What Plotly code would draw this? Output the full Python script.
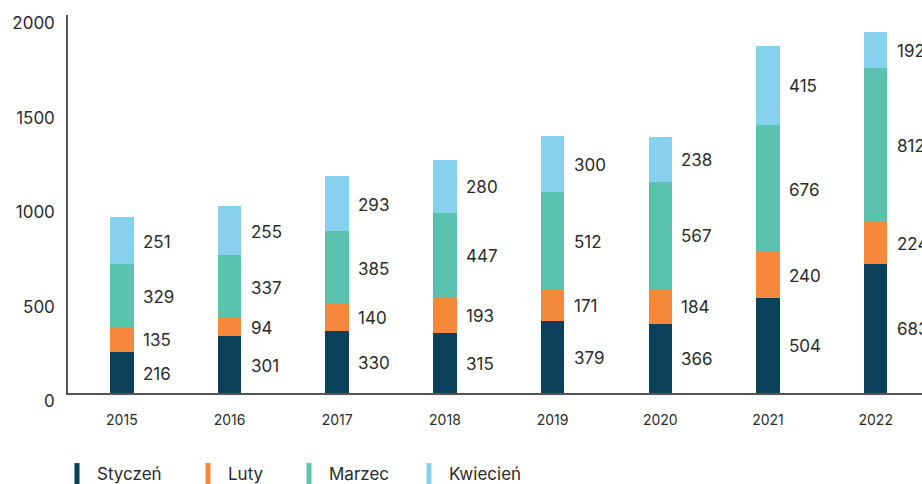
import plotly.graph_objects as go

years = ["2015", "2016", "2017", "2018", "2019", "2020", "2021", "2022"]
styczen = [216, 301, 330, 315, 379, 366, 504, 683]
luty = [135, 94, 140, 193, 171, 184, 240, 224]
marzec = [329, 337, 385, 447, 512, 567, 676, 812]
kwiecien = [251, 255, 293, 280, 300, 238, 415, 192]

series_names = ["Styczeń", "Luty", "Marzec", "Kwiecień"]
series_values = [styczen, luty, marzec, kwiecien]
colors = ["#0B405A", "#F5883B", "#5BC2B0", "#88D1EE"]

y_ticks = [0, 500, 1000, 1500, 2000]

FONT = "Inter"
TXT = "#2b2b2b"

W, H = 922, 484
legend_ids = ["legend", "legend2", "legend3", "legend4"]
legend_x_px = [57, 188, 289, 409]

fig = go.Figure()
base = [0] * len(years)
annotations = []
legends = {}
for k, (name, vals, col) in enumerate(zip(series_names, series_values, colors)):
    fig.add_trace(go.Bar(
        x=years, y=vals, name=name, marker=dict(color=col, line=dict(width=0)),
        width=0.218, showlegend=False, hoverinfo="skip",
    ))
    for i, v in enumerate(vals):
        annotations.append(dict(
            x=i, y=base[i] + v / 2, xref="x", yref="y",
            text=str(v), showarrow=False,
            xanchor="left", yanchor="middle", xshift=19, yshift=-1,
            font=dict(family=FONT, size=17, color=TXT),
        ))
    base = [b + v for b, v in zip(base, vals)]
    # legend entry
    fig.add_trace(go.Scatter(
        x=[None], y=[None], mode="markers", name=name,
        marker=dict(symbol="line-ns", size=15, color=col,
                    line=dict(color=col, width=5)),
        showlegend=True, legend=legend_ids[k],
    ))
    legends[legend_ids[k]] = dict(
        orientation="h", xref="container", yref="container",
        x=legend_x_px[k] / W, y=1 - 474 / H, xanchor="left", yanchor="middle",
        font=dict(family=FONT, size=17, color=TXT),
        itemsizing="trace", bgcolor="rgba(0,0,0,0)",
    )

fig.update_layout(
    barmode="stack",
    width=W, height=H,
    margin=dict(l=68, r=0, t=15, b=91, autoexpand=False),
    paper_bgcolor="white", plot_bgcolor="white",
    font=dict(family=FONT, color=TXT),
    annotations=annotations,
    showlegend=True,
    xaxis=dict(
        type="category", range=[-0.5, 7.43],
        showline=True, linecolor="#555555", linewidth=1.5,
        showgrid=False, ticks="outside", ticklen=13, tickcolor="rgba(0,0,0,0)",
        tickfont=dict(family=FONT, size=14, color=TXT),
    ),
    yaxis=dict(
        range=[0, 2000], tickvals=y_ticks,
        showline=True, linecolor="#555555", linewidth=1.5,
        showgrid=False, zeroline=False,
        ticks="outside", ticklen=10, tickcolor="rgba(0,0,0,0)",
        ticklabelposition="outside bottom", ticklabelstandoff=8,
        ticklabelshift=-4,
        tickfont=dict(family=FONT, size=17, color=TXT),
    ),
    **legends,
)

fig.write_html(
    "out.html",
    config={"displayModeBar": False},
    post_script="document.body.style.margin='0';"
                "document.documentElement.style.overflow='hidden';",
)
